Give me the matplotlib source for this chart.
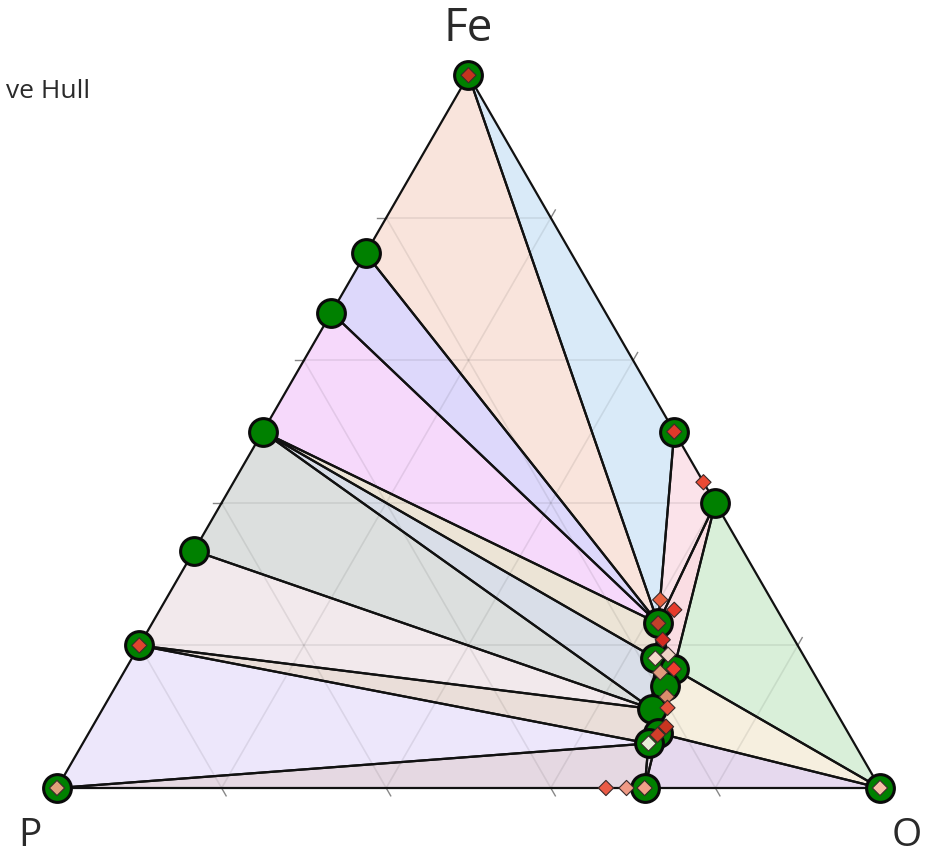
import numpy as np
import matplotlib
matplotlib.use('Agg')
import matplotlib.pyplot as plt

# stable phases: (Fe, P, O) atomic fractions
stable_names = ['Fe', 'Fe3P', 'Fe2P', 'FeP', 'FeP2', 'FeP4', 'P', 'O',
                'FeO', 'Fe2O3', 'P2O5', 'Fe3(PO4)2', 'Fe2P2O7', 'FePO4',
                'Fe3(P2O7)2', 'Fe(PO3)2', 'Fe(PO3)3', 'FeP4O11']
stable_fe = [1.0, 0.75, 0.667, 0.5, 0.333, 0.2, 0.0, 0.0,
             0.5, 0.4, 0.0, 0.231, 0.182, 0.167,
             0.143, 0.111, 0.077, 0.0625]
stable_p = [0.0, 0.25, 0.333, 0.5, 0.667, 0.8, 1.0, 0.0,
            0.0, 0.0, 0.286, 0.154, 0.182, 0.167,
            0.190, 0.222, 0.231, 0.25]

# facets of the convex hull (indices into stable list) and their fills
facets = [(0, 8, 11), (0, 1, 11), (1, 2, 11), (2, 3, 11), (3, 11, 12),
          (3, 12, 15), (3, 4, 15), (4, 5, 15), (5, 15, 17), (5, 6, 17),
          (6, 17, 10), (8, 9, 11), (9, 11, 13), (9, 13, 7), (7, 13, 16),
          (7, 16, 10), (11, 12, 13), (12, 13, 14), (12, 14, 15),
          (13, 14, 16), (14, 15, 16), (15, 16, 17), (17, 16, 10)]
facet_colors = ['#d9eaf8', '#f9e4dc', '#ddd8fb', '#f6d9fb', '#ece4d6',
                '#d9dee8', '#dcdfde', '#f2e9ec', '#eaded9', '#ede7fb',
                '#e5d8e2', '#fbe3ea', '#fadde3', '#d9efd9', '#f6efdf',
                '#e6d9ee', '#f3e4e4', '#eee6e0', '#e8e4ea',
                '#f2ebe0', '#ece4ea', '#ebe2e6', '#e6dce6']

# unstable phases (diamonds), coloured by energy above hull
unstable_fe = [1.0, 0.2, 0.5, 0.429, 0.0, 0.0, 0.0, 0.0, 0.0,
               0.264, 0.25, 0.231, 0.208, 0.182, 0.187, 0.162, 0.167,
               0.128, 0.1125, 0.086, 0.0745, 0.0625]
unstable_p = [0.0, 0.8, 0.0, 0.0, 1.0, 0.0, 0.286, 0.308, 0.333,
              0.135, 0.125, 0.154, 0.160, 0.182, 0.164, 0.186, 0.167,
              0.195, 0.202, 0.217, 0.233, 0.25]
unstable_colors = ['#c4341f', '#e0452e', '#e0392a', '#ea4a34', '#dea07a',
                   '#f6c0a8', '#f0a088', '#ef9a85', '#ea5a45',
                   '#e8603f', '#e63a2c', '#c0402a', '#d42a20', '#f3d9c9',
                   '#f0d3c4', '#df9a7c', '#ef3d2f', '#d98c6c', '#e4503a',
                   '#c8341f', '#d23e2a', '#e8edd8']

GRID_VALUES = [0.2, 0.4, 0.6, 0.8]
S3 = np.sqrt(3) / 2


def to_xy(fe, p):
    fe = np.asarray(fe, dtype=float)
    p = np.asarray(p, dtype=float)
    o = 1.0 - fe - p
    return o + fe / 2.0, fe * S3


fig = plt.figure(figsize=(9.29, 8.57), dpi=100)
ax = fig.add_axes([0, 0, 1, 1])
ax.set_xlim(-57 / 823, 872 / 823)
ax.set_ylim(-69 / 823, 788 / 823)
ax.axis('off')

sx, sy = to_xy(stable_fe, stable_p)

# hull facets
for (i, j, k), col in zip(facets, facet_colors):
    ax.fill([sx[i], sx[j], sx[k]], [sy[i], sy[j], sy[k]],
            color=col, lw=0, zorder=1)

# ternary grid + ticks
tick = 0.011
for v in GRID_VALUES:
    # constant Fe (horizontal)
    x0, y0 = to_xy(v, 1 - v)
    x1, y1 = to_xy(v, 0)
    ax.plot([x0, x1], [y0, y1], color='k', alpha=0.08, lw=1.2, zorder=2)
    ax.plot([x0 - tick, x0], [y0, y0], color='#555555', alpha=0.7, lw=1, zorder=2)
    # constant O
    x0, y0 = to_xy(0, 1 - v)
    x1, y1 = to_xy(1 - v, 0)
    ax.plot([x0, x1], [y0, y1], color='k', alpha=0.08, lw=1.2, zorder=2)
    ax.plot([x1, x1 + tick * 0.5], [y1, y1 + tick * S3], color='#555555',
            alpha=0.7, lw=1, zorder=2)
    # constant P
    x0, y0 = to_xy(0, v)
    x1, y1 = to_xy(1 - v, v)
    ax.plot([x0, x1], [y0, y1], color='k', alpha=0.08, lw=1.2, zorder=2)
    ax.plot([x0, x0 + tick * 0.5], [y0, y0 - tick * S3], color='#555555',
            alpha=0.7, lw=1, zorder=2)

# facet edges
for i, j, k in facets:
    ax.plot([sx[i], sx[j], sx[k], sx[i]], [sy[i], sy[j], sy[k], sy[i]],
            color='#111111', lw=1.6, solid_joinstyle='round', zorder=3)

# stable phases
ax.plot(sx, sy, 'o', ms=20, mfc='#008000', mec='#0a0a0a', mew=2.2,
        ls='none', zorder=4)

# unstable phases
ux, uy = to_xy(unstable_fe, unstable_p)
ax.scatter(ux, uy, marker='D', s=60, c=unstable_colors,
           edgecolors='#3a2a2a', linewidths=0.8, zorder=5)

# corner labels
ax.text(0.5, 759 / 823, 'Fe', fontsize=33, family='Open Sans',
        color='#2a2a2a', ha='center', va='center')
ax.text(-27 / 823, -58 / 823, 'P', fontsize=28, family='Open Sans',
        color='#2a2a2a', ha='center', va='baseline')
ax.text(850 / 823, -58 / 823, 'O', fontsize=28, family='Open Sans',
        color='#2a2a2a', ha='center', va='baseline')

# legend entry (cut off at left edge in the original)
fig.text(90 / 929, 1 - 92 / 857, 've Hull', fontsize=19,
         family='Open Sans', color='#2a2a2a', ha='right', va='center')

fig.savefig('out.png', dpi=100)
